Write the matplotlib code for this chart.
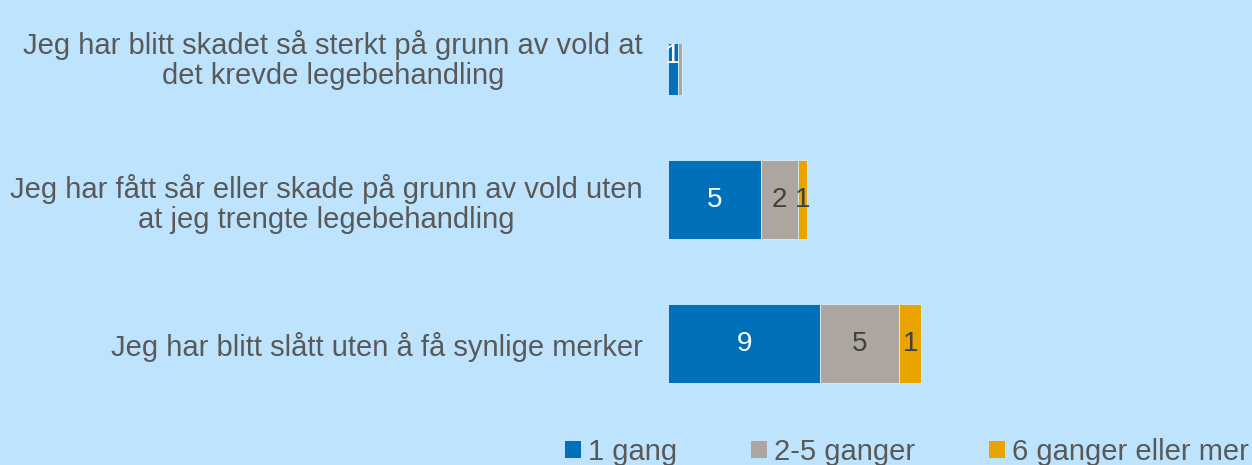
import matplotlib
matplotlib.use("Agg")
import matplotlib.pyplot as plt
from matplotlib.patches import Patch
import numpy as np

categories = [
    "Jeg har blitt slått uten å få synlige merker",
    "Jeg har fått sår eller skade på grunn av vold uten\nat jeg trengte legebehandling",
    "Jeg har blitt skadet så sterkt på grunn av vold at\ndet krevde legebehandling",
]
series_names = ["1 gang", "2-5 ganger", "6 ganger eller mer"]
once = [8.84, 5.40, 0.58]
two_to_five = [4.60, 2.15, 0.23]
six_plus = [1.28, 0.52, 0.0]

colors = ["#0070BA", "#ADA69F", "#E9A400"]
label_colors = ["white", "#404040", "#404040"]
bg = "#BDE4FC"
text_color = "#595959"

plt.rcParams["font.family"] = ["Liberation Sans", "DejaVu Sans"]

fig = plt.figure(figsize=(12.52, 4.65), dpi=100, facecolor=bg)
ax = fig.add_axes([668 / 1252, 1 - 400 / 465, 572 / 1252, 356 / 465])
ax.set_facecolor(bg)

y = np.arange(len(categories))
left = np.zeros(len(categories))
for vals, name, col, lc in zip([once, two_to_five, six_plus], series_names, colors, label_colors):
    vals = np.array(vals)
    bars = ax.barh(y, vals, left=left, height=0.55, color=col, edgecolor="#D8EEFC",
                   linewidth=0.6, label=name)
    for b, v in zip(bars, vals):
        if round(v) >= 1:
            ax.text(b.get_x() + b.get_width() / 2, b.get_y() + b.get_height() / 2,
                    f"{v:.0f}", ha="center", va="center", color=lc, fontsize=20)
    left += vals

ax.set_xlim(0, 572 / 17.2)
ax.set_ylim(-0.39, 2 + 11.5 / 144)
ax.set_yticks(y)
ax.set_yticklabels(categories, fontsize=21, color=text_color)
for lbl in ax.get_yticklabels():
    lbl.set_multialignment("center")
    lbl.set_linespacing(1.1)
ax.tick_params(axis="y", length=0, pad=18)
ax.set_xticks([])
for s in ax.spines.values():
    s.set_visible(False)

handles = [Patch(facecolor=c, edgecolor="none") for c in colors]
leg = fig.legend(handles, series_names, loc="center right",
                 bbox_to_anchor=(1249 / 1252, 1 - 452 / 465),
                 ncol=3, frameon=False, fontsize=21, handlelength=0.55, handleheight=0.55,
                 handletextpad=0.25, columnspacing=2.52, labelcolor=text_color,
                 borderpad=0, borderaxespad=0)

fig.savefig("out.png", dpi=100, facecolor=bg)
